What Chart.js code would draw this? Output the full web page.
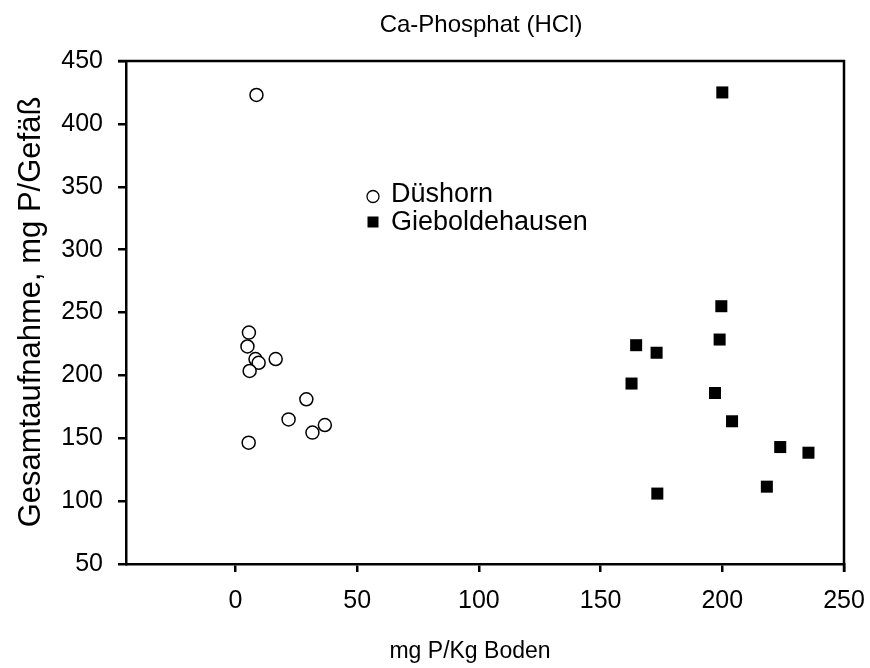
<!DOCTYPE html>
<html>
<head>
<meta charset="utf-8">
<script src="https://cdn.jsdelivr.net/npm/chart.js@4/dist/chart.umd.min.js"></script>
<style>
html,body{margin:0;padding:0;background:#fff;}
#wrap{width:870px;height:668px;position:relative;}
</style>
</head>
<body>
<div id="wrap"><canvas id="c" width="870" height="668"></canvas></div>
<script>
const chartTitle = "Ca-Phosphat (HCl)";
const xAxisTitle = "mg P/Kg Boden";
const yAxisTitle = "Gesamtaufnahme, mg P/Gefäß";
const seriesNames = ["Düshorn", "Gieboldehausen"];
const dushornX = [8.6, 5.5, 4.9, 8.2, 9.5, 16.5, 5.8, 29.1, 21.8, 36.7, 31.6, 5.4];
const dushornY = [423, 234, 223, 213, 210, 213, 203.5, 181, 165, 160.5, 154.5, 146.5];
const giebX = [200, 199.6, 198.9, 164.6, 173, 162.7, 197, 204, 223.8, 235.4, 218.3, 173.3];
const giebY = [425, 255, 228.5, 224, 218, 193.5, 186, 163.5, 143, 138.5, 111.5, 106];
const xTicks = [0, 50, 100, 150, 200, 250];
const yTicks = [50, 100, 150, 200, 250, 300, 350, 400, 450];

const FONT = "'Liberation Sans', Arial, sans-serif";

function pts(xs, ys) { return xs.map((x, i) => ({x: x, y: ys[i]})); }

function wideText(ctx, text, x, y, size, sx, align) {
  ctx.save();
  ctx.font = size + 'px ' + FONT;
  ctx.textAlign = align;
  ctx.textBaseline = 'middle';
  ctx.translate(x, y);
  ctx.scale(sx, 1);
  ctx.fillText(text, 0, 0);
  ctx.restore();
}

const decor = {
  id: 'decor',
  afterDraw(chart) {
    const ctx = chart.ctx;
    const a = chart.chartArea;
    ctx.save();
    ctx.strokeStyle = '#000';
    ctx.lineWidth = 2.5;
    ctx.beginPath();
    ctx.moveTo(a.left - 8, a.top);
    ctx.lineTo(a.right, a.top);
    ctx.lineTo(a.right, a.bottom + 8);
    ctx.stroke();
    ctx.fillStyle = '#000';
    wideText(ctx, chartTitle, 481, 25, 24, 1.0, 'center');
    wideText(ctx, xAxisTitle, 470, 652, 23, 1.0, 'center');
    ctx.save();
    ctx.font = '31px ' + FONT;
    ctx.textAlign = 'center';
    ctx.textBaseline = 'middle';
    ctx.translate(31, 312);
    ctx.rotate(-Math.PI / 2);
    ctx.fillText(yAxisTitle, 0, 0);
    ctx.restore();
    // legend
    ctx.lineWidth = 1.3;
    ctx.beginPath();
    ctx.arc(373, 196.5, 6, 0, Math.PI * 2);
    ctx.fillStyle = '#fff';
    ctx.fill();
    ctx.stroke();
    ctx.fillStyle = '#000';
    ctx.fillRect(367.5, 216.5, 11, 11);
    wideText(ctx, seriesNames[0], 391, 195, 27, 1.0, 'left');
    wideText(ctx, seriesNames[1], 391, 223, 27, 1.0, 'left');
    ctx.restore();
  }
};

new Chart(document.getElementById('c'), {
  type: 'scatter',
  data: {
    datasets: [
      {
        label: seriesNames[0],
        data: pts(dushornX, dushornY),
        pointStyle: 'circle',
        pointRadius: 6.5,
        pointHoverRadius: 6.5,
        backgroundColor: '#fff',
        borderColor: '#000',
        borderWidth: 1.5
      },
      {
        label: seriesNames[1],
        data: pts(giebX, giebY),
        pointStyle: 'rect',
        pointRadius: 8.5,
        pointHoverRadius: 8.5,
        backgroundColor: '#000',
        borderColor: '#000',
        borderWidth: 0
      }
    ]
  },
  options: {
    responsive: false,
    animation: false,
    layout: { padding: { top: 61, right: 26, left: 0, bottom: 0 } },
    plugins: { legend: { display: false }, title: { display: false }, tooltip: { enabled: false } },
    scales: {
      x: {
        type: 'linear',
        min: -45,
        max: 250,
        afterBuildTicks(s) { s.ticks = xTicks.map(v => ({value: v})); },
        afterFit(s) { s.height = 104; s.paddingLeft = 0; s.paddingRight = 0; },
        border: { display: true, color: '#000', width: 2.5 },
        grid: { drawOnChartArea: false, drawTicks: true, tickLength: 8, color: '#000', lineWidth: 2.5 },
        ticks: { color: '#000', font: { family: FONT, size: 25 }, padding: 14, maxRotation: 0 }
      },
      y: {
        type: 'linear',
        min: 50,
        max: 450,
        afterBuildTicks(s) { s.ticks = yTicks.map(v => ({value: v})); },
        afterFit(s) { s.width = 126; s.paddingTop = 0; s.paddingBottom = 0; },
        border: { display: true, color: '#000', width: 2.5 },
        grid: { drawOnChartArea: false, drawTicks: true, tickLength: 8, color: '#000', lineWidth: 2.5 },
        ticks: { color: '#000', font: { family: FONT, size: 25 }, padding: 15 }
      }
    }
  },
  plugins: [decor]
});
</script>
</body>
</html>
